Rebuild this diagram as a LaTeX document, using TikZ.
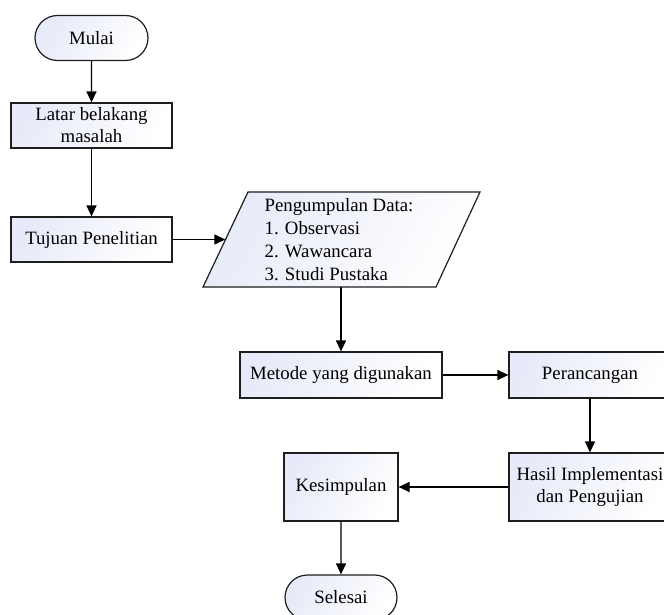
\documentclass[tikz,border=0pt]{standalone}
\usepackage{fontspec}
\setmainfont{Liberation Serif}
\usetikzlibrary{arrows.meta,shapes.misc}
\definecolor{fillblue}{RGB}{231,234,248}
\definecolor{edge}{RGB}{30,30,30}
\tikzset{
  base/.style={draw=edge, line width=1.2pt, left color=fillblue, right color=white,
    shading angle=60, inner sep=0pt, align=center, font=\fontsize{18.8}{22}\selectfont},
  procbox/.style={base, rectangle},
  termbox/.style={base, rounded rectangle, minimum width=113pt, minimum height=45pt},
  flow/.style={draw=black, line width=1.4pt, -{Triangle[length=11pt,width=10pt]}},
}
\begin{document}
\begin{tikzpicture}[x=1pt,y=-1pt]
\useasboundingbox (0,0) rectangle (664,615);
\node[termbox] (mulai) at (91.5,38) {Mulai};
\node[procbox, minimum width=161pt, minimum height=45pt] (latar) at (91.5,125.5) {Latar belakang\\masalah};
\node[procbox, minimum width=161pt, minimum height=45pt] (tujuan) at (91.5,239.5) {Tujuan Penelitian};
% parallelogram
\shade[draw=edge, line width=1.2pt, left color=fillblue, right color=white, shading angle=60]
  (248,192) -- (480,192) -- (436,287) -- (203,287) -- cycle;
\node[align=left, inner sep=0pt, font=\fontsize{18.8}{23}\selectfont] (data) at (339,240)
  {Pengumpulan Data:\\1. Observasi\\2. Wawancara\\3. Studi Pustaka};
\coordinate (datain) at (225.3,239.5);
\coordinate (dataout) at (341,287);
\node[procbox, minimum width=202pt, minimum height=46pt] (metode) at (341,375) {Metode yang digunakan};
\node[procbox, minimum width=162pt, minimum height=46pt] (rancang) at (590,375) {Perancangan};
\node[procbox, minimum width=162pt, minimum height=68pt] (hasil) at (590,487) {Hasil Implementasi\\dan Pengujian};
\node[procbox, minimum width=114pt, minimum height=68pt] (simpul) at (341,487) {Kesimpulan};
\node[termbox, minimum width=112pt] (selesai) at (341,597.5) {Selesai};
\draw[flow] (mulai) -- (latar);
\draw[flow] (latar) -- (tujuan);
\draw[flow] (tujuan) -- (datain);
\draw[flow] (dataout) -- (metode);
\draw[flow] (metode) -- (rancang);
\draw[flow] (rancang) -- (hasil);
\draw[flow] (hasil) -- (simpul);
\draw[flow] (simpul) -- (selesai);
\end{tikzpicture}
\end{document}
